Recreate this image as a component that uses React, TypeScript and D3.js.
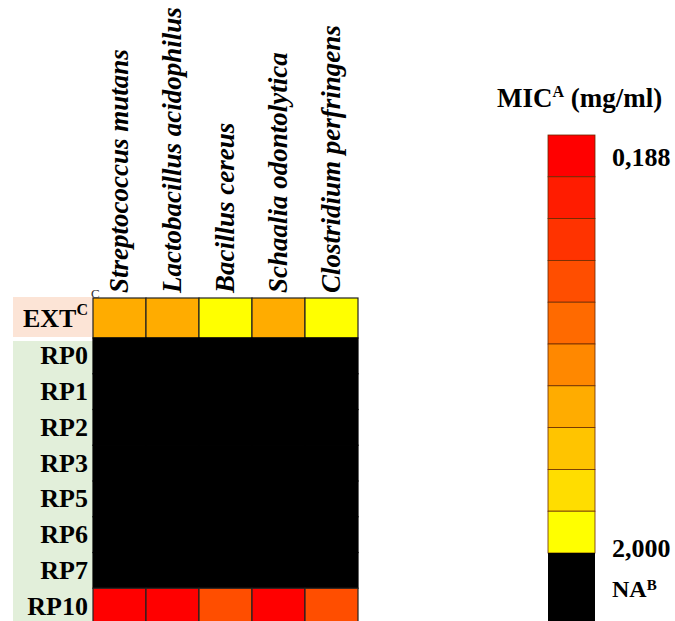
import React from 'react';
import * as d3 from 'd3';

// columns and rows of the table
const bacteria = [
  'Streptococcus mutans',
  'Lactobacillus acidophilus',
  'Bacillus cereus',
  'Schaalia odontolytica',
  'Clostridium perfringens',
];
const extRow = 'EXT';
const rpRows = ['RP0', 'RP1', 'RP2', 'RP3', 'RP5', 'RP6', 'RP7', 'RP10'];

// MIC level for every cell: 0 = 0,188 mg/ml ... 9 = 2,000 mg/ml, null = NA
const extLevels = [6, 6, 9, 6, 9];
const rp0Levels = [null, null, null, null, null];
const rp1Levels = [null, null, null, null, null];
const rp2Levels = [null, null, null, null, null];
const rp3Levels = [null, null, null, null, null];
const rp5Levels = [null, null, null, null, null];
const rp6Levels = [null, null, null, null, null];
const rp7Levels = [null, null, null, null, null];
const rp10Levels = [0, 0, 3, 0, 3];

// colour steps of the legend, top (0,188) to bottom (2,000)
const legendColors = [
  '#FF0000', '#FF1C00', '#FF3300', '#FF4E00', '#FF6A00',
  '#FF8800', '#FFAC00', '#FFC400', '#FFDD00', '#FFFF00',
];
const legendTicks = [
  { level: 0, label: '0,188' },
  { level: 9, label: '2,000' },
];

const font = '"Liberation Serif", "Times New Roman", serif';

export default function App() {
  const rpData = [rp0Levels, rp1Levels, rp2Levels, rp3Levels, rp5Levels, rp6Levels, rp7Levels, rp10Levels];

  const x = d3.scaleBand<string>().domain(bacteria).range([93, 358]);
  const yExt = d3.scaleBand<string>().domain([extRow]).range([298, 338]);
  const y = d3.scaleBand<string>().domain(rpRows).range([338, 624]);

  const levels = d3.range(legendColors.length);
  const color = d3.scaleOrdinal<number, string>().domain(levels).range(legendColors);
  const fill = (v: number | null) => (v == null ? '#000000' : color(v));
  const edge = (v: number | null) => (v == null ? '#000000' : '#222222');

  const ly = d3.scaleBand<number>().domain(levels).range([135, 553]);
  const lx = 548;
  const lw = 47;

  return (
    <svg width={675} height={621} style={{ position: 'absolute', left: 0, top: 0, fontFamily: font }}>
      <rect width={675} height={621} fill="#ffffff" />

      {/* row label backgrounds */}
      <rect x={13} y={297} width={80} height={40} fill="#FCE4D6" />
      <rect x={13} y={341} width={80} height={285} fill="#E2EFDA" />

      {/* column headers */}
      {bacteria.map((b) => (
        <text
          key={b}
          transform={`translate(${x(b)! + x.bandwidth() / 2 + 8},293) rotate(-90)`}
          fontSize={27}
          fontWeight="bold"
          fontStyle="italic"
          fill="#000"
        >
          {b}
        </text>
      ))}
      <text x={91} y={298} fontSize={13} fill="#333">C</text>

      {/* EXT row */}
      {extLevels.map((v, i) => (
        <rect
          key={'ext' + i}
          x={x(bacteria[i])}
          y={yExt(extRow)}
          width={x.bandwidth()}
          height={yExt.bandwidth()}
          fill={fill(v)}
          stroke={edge(v)}
          strokeWidth={1.2}
        />
      ))}
      <text x={88} y={yExt(extRow)! + yExt.bandwidth() / 2} dy="0.33em" textAnchor="end" fontSize={26} fontWeight="bold">
        EXT<tspan fontSize={16} dy="-0.75em">C</tspan>
      </text>

      {/* RP rows */}
      {rpData.map((row, r) =>
        row.map((v, i) => (
          <rect
            key={rpRows[r] + i}
            x={x(bacteria[i])}
            y={y(rpRows[r])}
            width={x.bandwidth()}
            height={y.bandwidth()}
            fill={fill(v)}
            stroke={edge(v)}
            strokeWidth={1.2}
          />
        ))
      )}
      {rpRows.map((r) => (
        <text
          key={r}
          x={88}
          y={y(r)! + y.bandwidth() / 2}
          dy="0.33em"
          textAnchor="end"
          fontSize={26}
          fontWeight="bold"
        >
          {r}
        </text>
      ))}

      {/* legend */}
      <text x={497} y={107} fontSize={27} fontWeight="bold">
        MIC<tspan fontSize={16} dy="-0.6em">A</tspan>
        <tspan dy="0.36em" fontSize={27}> (mg/ml)</tspan>
      </text>
      {levels.map((l) => (
        <rect
          key={'leg' + l}
          x={lx}
          y={ly(l)}
          width={lw}
          height={ly.bandwidth()}
          fill={legendColors[l]}
          stroke="#6a2a00"
          strokeWidth={0.8}
        />
      ))}
      <rect x={lx} y={553} width={lw} height={70} fill="#000" />
      {legendTicks.map((t) => (
        <text
          key={t.label}
          x={612}
          y={t.level === 0 ? 166 : 557}
          fontSize={26}
          fontWeight="bold"
        >
          {t.label}
        </text>
      ))}
      <text x={612} y={597} fontSize={24} fontWeight="bold">
        NA<tspan fontSize={15} dy="-0.5em">B</tspan>
      </text>
    </svg>
  );
}
